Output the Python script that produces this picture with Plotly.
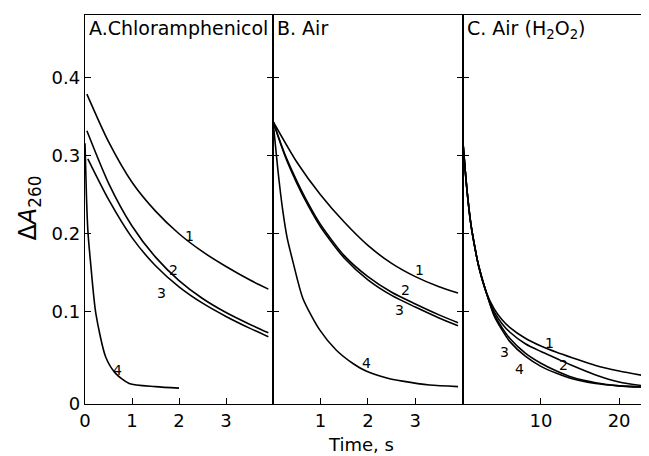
import plotly.graph_objects as go

# ---------------- data ----------------
# Panel A: Chloramphenicol (time, s)
a_t1 = [0.04, 0.5, 1.0, 1.5, 2.0, 2.5, 3.0, 3.5, 3.9]
a_y1 = [0.379, 0.318, 0.266, 0.229, 0.200, 0.177, 0.158, 0.141, 0.129]
a_t2 = [0.04, 0.5, 1.0, 1.5, 2.0, 2.5, 3.0, 3.5, 3.9]
a_y2 = [0.332, 0.265, 0.210, 0.170, 0.140, 0.117, 0.099, 0.084, 0.073]
a_t3 = [0.06, 0.5, 1.0, 1.5, 2.0, 2.5, 3.0, 3.5, 3.9]
a_y3 = [0.296, 0.244, 0.195, 0.159, 0.132, 0.111, 0.094, 0.079, 0.068]
a_t4 = [0.0, 0.03, 0.06, 0.12, 0.23, 0.44, 0.65, 0.94, 1.5, 2.0]
a_y4 = [0.316, 0.250, 0.205, 0.162, 0.098, 0.042, 0.021, 0.008, 0.004, 0.002]

# Panel B: Air
b_t1 = [0.0, 0.5, 1.0, 1.5, 2.0, 2.5, 3.0, 3.5, 3.9]
b_y1 = [0.344, 0.292, 0.250, 0.215, 0.185, 0.162, 0.145, 0.132, 0.124]
b_t2 = [0.0, 0.25, 0.5, 0.75, 1.0, 1.5, 2.0, 2.5, 3.0, 3.5, 3.9]
b_y2 = [0.344, 0.302, 0.268, 0.238, 0.212, 0.172, 0.145, 0.125, 0.110, 0.096, 0.086]
b_t3 = [0.0, 0.25, 0.5, 0.75, 1.0, 1.5, 2.0, 2.5, 3.0, 3.5, 3.9]
b_y3 = [0.344, 0.300, 0.265, 0.235, 0.209, 0.169, 0.141, 0.121, 0.106, 0.092, 0.082]
b_t4 = [0.0, 0.1, 0.2, 0.3, 0.42, 0.63, 0.98, 1.33, 1.7, 1.96, 2.4, 2.73, 3.3, 3.9]
b_y4 = [0.344, 0.283, 0.232, 0.194, 0.164, 0.117, 0.077, 0.051, 0.033, 0.024, 0.015, 0.011, 0.006, 0.004]

# Panel C: Air (H2O2)
c_t = [0.0, 0.5, 1.0, 1.5, 2.0, 3.0, 4.0, 5.0, 6.0, 8.0, 10.0, 12.0, 14.0, 17.0, 20.0, 23.8]
c_y1 = [0.320, 0.260, 0.215, 0.185, 0.160, 0.125, 0.104, 0.090, 0.080, 0.066, 0.056, 0.048, 0.041, 0.031, 0.024, 0.017]
c_y2 = [0.320, 0.260, 0.215, 0.185, 0.160, 0.125, 0.100, 0.085, 0.074, 0.059, 0.049, 0.040, 0.031, 0.019, 0.010, 0.004]
c_y3 = [0.320, 0.260, 0.215, 0.185, 0.160, 0.125, 0.097, 0.080, 0.066, 0.047, 0.034, 0.024, 0.016, 0.009, 0.005, 0.003]
c_y4 = [0.320, 0.260, 0.215, 0.185, 0.160, 0.125, 0.095, 0.077, 0.062, 0.043, 0.030, 0.021, 0.014, 0.008, 0.005, 0.003]

# curve labels: (text, x, y)
a_labels = [("1", 2.23, 0.197), ("2", 1.89, 0.153), ("3", 1.63, 0.124), ("4", 0.70, 0.025)]
b_labels = [("1", 3.08, 0.153), ("2", 2.80, 0.128), ("3", 2.66, 0.102), ("4", 1.96, 0.034)]
c_labels = [("1", 11.06, 0.060), ("2", 12.85, 0.032), ("3", 5.40, 0.049), ("4", 7.32, 0.027)]

panel_titles = ["A.Chloramphenicol", "B. Air", "C. Air (H<sub>2</sub>O<sub>2</sub>)"]

y_ticks = [0.1, 0.2, 0.3, 0.4]
y_ticktext = ["0.1", "0.2", "0.3", "0.4"]
y_range = [-0.0183, 0.4805]

a_xticks, a_xtext = [0, 1, 2, 3], ["0", "1", "2", "3"]
b_xticks, b_xtext = [1, 2, 3], ["1", "2", "3"]
c_xticks, c_xtext = [10, 20], ["10", "20"]

x_ranges = [[0, 4.0], [0, 4.0], [0, 23.7]]
domains = [[0.0, 0.334], [0.334, 0.671], [0.671, 1.0]]

FONT = "DejaVu Sans"
LW = 1.4
CURVE_W = 1.6

fig = go.Figure()

def add_curve(xs, ys, axis):
    fig.add_trace(go.Scatter(
        x=xs, y=ys, mode="lines", xaxis="x" + axis, yaxis="y" + axis,
        line=dict(color="black", width=CURVE_W, shape="spline", smoothing=0.7),
        showlegend=False, hoverinfo="skip"))

add_curve(a_t1, a_y1, "")
add_curve(a_t2, a_y2, "")
add_curve(a_t3, a_y3, "")
add_curve(a_t4, a_y4, "")
add_curve(b_t1, b_y1, "2")
add_curve(b_t2, b_y2, "2")
add_curve(b_t3, b_y3, "2")
add_curve(b_t4, b_y4, "2")
add_curve(c_t, c_y1, "3")
add_curve(c_t, c_y2, "3")
add_curve(c_t, c_y3, "3")
add_curve(c_t, c_y4, "3")

annotations = []
for labels, ax in ((a_labels, ""), (b_labels, "2"), (c_labels, "3")):
    for txt, x, y in labels:
        annotations.append(dict(text=txt, x=x, y=y, xref="x" + ax, yref="y" + ax,
                                showarrow=False, font=dict(family=FONT, size=14, color="black")))

for title, ax in zip(panel_titles, ["", "2", "3"]):
    annotations.append(dict(text=title, x=0.01, y=1.0, xref="x" + ax + " domain",
                            yref="y" + ax + " domain", xanchor="left", yanchor="top",
                            showarrow=False, font=dict(family=FONT, size=19, color="black")))

annotations.append(dict(text="Δ<i>A</i><sub>260</sub>", x=-0.0977, y=0.505, xref="paper", yref="paper",
                        xanchor="center", yanchor="middle",
                        textangle=-90, showarrow=False, font=dict(family=FONT, size=24, color="black")))
annotations.append(dict(text="Time, s", x=0.49, y=-0.072, xref="paper", yref="paper",
                        xanchor="center", yanchor="top",
                        showarrow=False, font=dict(family=FONT, size=18, color="black")))

def xaxis(dom, rng, tv, tt, anchor):
    return dict(domain=dom, range=rng, tickvals=tv, ticktext=tt, ticks="inside", ticklen=6,
                tickwidth=LW, tickcolor="black", showline=True, linecolor="black", linewidth=LW,
                mirror=True, showgrid=False, zeroline=False, anchor=anchor,
                tickfont=dict(family=FONT, size=18, color="black"))

def yaxis(anchor, labels):
    d = dict(domain=[0, 1], range=y_range,
             showticklabels=labels, ticks="inside", ticklen=6, tickwidth=LW, tickcolor="black",
             showline=True, linecolor="black", linewidth=LW, mirror="ticks",
             showgrid=False, zeroline=False, anchor=anchor,
             tickfont=dict(family=FONT, size=18, color="black"))
    if labels:
        d["tickvals"] = [y_range[0]] + y_ticks
        d["ticktext"] = ["0"] + y_ticktext
    else:
        d["tickvals"] = y_ticks
    return d

# page body has an 8px margin, so the figure is sized/offset to fit the 649x456 window
fig.update_layout(
    width=641, height=448,
    margin=dict(l=77, r=1, t=7, b=52),
    paper_bgcolor="white", plot_bgcolor="white",
    xaxis=xaxis(domains[0], x_ranges[0], a_xticks, a_xtext, "y"),
    xaxis2=xaxis(domains[1], x_ranges[1], b_xticks, b_xtext, "y2"),
    xaxis3=xaxis(domains[2], x_ranges[2], c_xticks, c_xtext, "y3"),
    yaxis=yaxis("x", True),
    yaxis2=yaxis("x2", False),
    yaxis3=yaxis("x3", False),
    annotations=annotations,
)

fig.write_html("out.html")
